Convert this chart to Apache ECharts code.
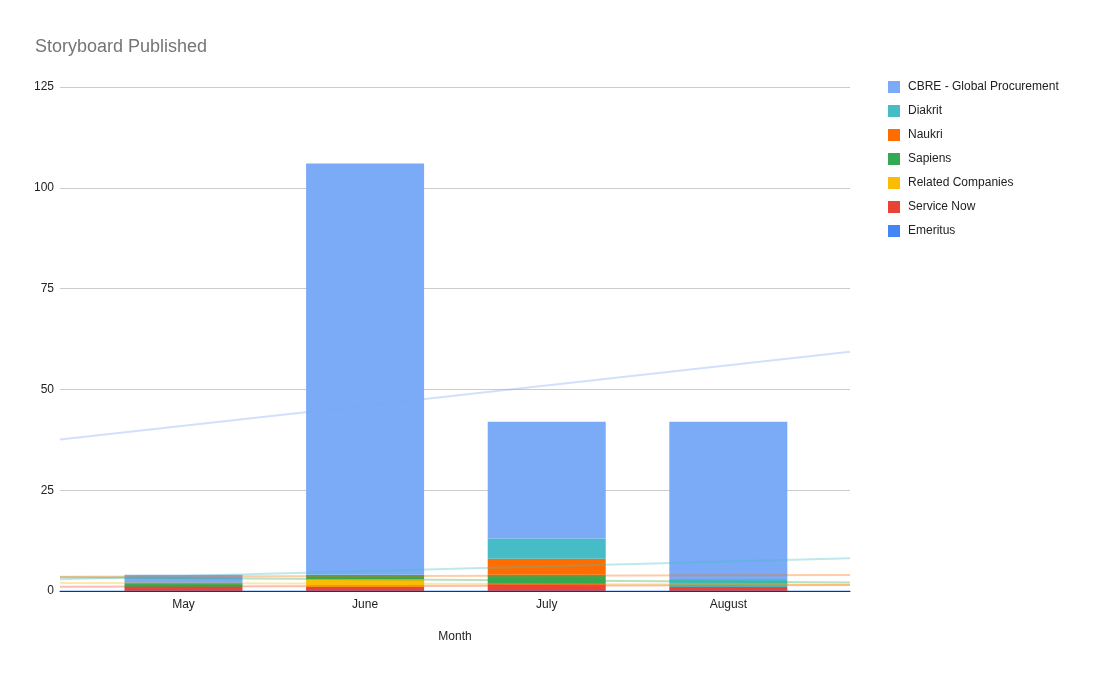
<!DOCTYPE html>
<html>
<head>
  <meta charset="UTF-8">
  <title>Storyboard Published</title>
  <script src="https://cdn.jsdelivr.net/npm/echarts@6/dist/echarts.min.js"></script>
  <style>
    html, body { margin: 0; padding: 0; background: #fff; }
    #main { width: 1096px; height: 677px; }
  </style>
</head>
<body>
  <div id="main"></div>
  <script type="text/javascript">
    // months on the x axis
    var months = ['May', 'June', 'July', 'August'];

    // series values, bottom of the stack first
    var emeritus = [0, 0, 0, 0];
    var serviceNow = [1, 1, 2, 1];
    var relatedCompanies = [0, 2, 0, 0];
    var sapiens = [1, 1, 2, 0];
    var naukri = [0, 0, 4, 0];
    var diakrit = [0, 0, 5, 2];
    var cbre = [2, 102, 29, 39];

    var yTicks = [0, 25, 50, 75, 100, 125];

    var stackNames = ['Emeritus', 'Service Now', 'Related Companies', 'Sapiens', 'Naukri', 'Diakrit', 'CBRE - Global Procurement'];
    var stackData = [emeritus, serviceNow, relatedCompanies, sapiens, naukri, diakrit, cbre];
    var stackColors = ['#4285f4', '#ea4335', '#fbbc04', '#34a853', '#ff6d01', '#46bdc6', '#7baaf7'];
    var legendOrder = ['CBRE - Global Procurement', 'Diakrit', 'Naukri', 'Sapiens', 'Related Companies', 'Service Now', 'Emeritus'];

    // outer plot spans a bit past the first and last month
    var xMin = -0.68;
    var xMax = 3.67;

    var series = [];
    var cumulative = [0, 0, 0, 0];

    // bars live on the inner grid (category axis)
    stackData.forEach(function (vals, i) {
      series.push({
        name: stackNames[i],
        type: 'bar',
        stack: 'total',
        xAxisIndex: 1,
        yAxisIndex: 1,
        barWidth: 118,
        itemStyle: { color: stackColors[i] },
        data: vals
      });
    });

    // linear trendline of each stacked level, across the whole outer plot
    stackData.forEach(function (vals, i) {
      cumulative = cumulative.map(function (c, j) { return c + vals[j]; });
      var n = cumulative.length;
      var mx = 0, my = 0;
      for (var j = 0; j < n; j++) { mx += j; my += cumulative[j]; }
      mx /= n; my /= n;
      var sxy = 0, sxx = 0;
      for (var k = 0; k < n; k++) {
        sxy += (k - mx) * (cumulative[k] - my);
        sxx += (k - mx) * (k - mx);
      }
      var slope = sxy / sxx;
      var icpt = my - slope * mx;
      series.push({
        name: stackNames[i] + ' trend',
        type: 'line',
        silent: true,
        symbol: 'none',
        xAxisIndex: 0,
        yAxisIndex: 0,
        z: 5,
        lineStyle: { color: stackColors[i], width: 2, opacity: 0.35 },
        data: [[xMin, icpt + slope * xMin], [xMax, icpt + slope * xMax]]
      });
    });

    var band = 790 / (xMax - xMin);
    var innerLeft = 60 + (-0.5 - xMin) * band;
    var innerRight = 246 + (xMax - 3.5) * band;

    var myChart = echarts.init(document.getElementById('main'));
    var option = {
      animation: false,
      textStyle: { fontFamily: 'Arial, "Liberation Sans", sans-serif' },
      title: {
        text: 'Storyboard Published',
        left: 30,
        top: 33,
        textStyle: { color: '#757575', fontSize: 18, fontWeight: 'normal', fontFamily: 'Arial, "Liberation Sans", sans-serif' }
      },
      legend: {
        data: legendOrder,
        orient: 'vertical',
        left: 888,
        top: 81,
        padding: 0,
        itemWidth: 12,
        itemHeight: 12,
        itemGap: 12,
        icon: 'rect',
        textStyle: { color: '#222', fontSize: 12, padding: [1, 0, 0, 3] }
      },
      grid: [
        { left: 60, right: 246, top: 87, bottom: 86 },
        { left: innerLeft, right: innerRight, top: 87, bottom: 86 }
      ],
      xAxis: [
        {
          type: 'value',
          gridIndex: 0,
          min: xMin,
          max: xMax,
          name: 'Month',
          nameLocation: 'middle',
          nameGap: 40,
          nameTextStyle: { color: '#222', fontSize: 12 },
          axisLine: { show: true, lineStyle: { color: '#333', width: 1 } },
          axisTick: { show: false },
          splitLine: { show: false },
          z: 10,
          axisLabel: {
            customValues: [0, 1, 2, 3],
            color: '#222',
            fontSize: 12,
            margin: 8,
            formatter: function (v) { return months[Math.round(v)]; }
          }
        },
        {
          type: 'category',
          gridIndex: 1,
          data: months,
          show: false
        }
      ],
      yAxis: [
        {
          type: 'value',
          gridIndex: 0,
          min: yTicks[0],
          max: yTicks[yTicks.length - 1],
          interval: 25,
          axisLine: { show: false },
          axisTick: { show: false },
          splitLine: { lineStyle: { color: '#cccccc' } },
          axisLabel: { color: '#222', fontSize: 12, margin: 6, padding: [2, 0, 0, 0] }
        },
        {
          type: 'value',
          gridIndex: 1,
          min: yTicks[0],
          max: yTicks[yTicks.length - 1],
          interval: 25,
          show: false,
          splitLine: { show: false }
        }
      ],
      series: series
    };
    myChart.setOption(option);
  </script>
</body>
</html>
